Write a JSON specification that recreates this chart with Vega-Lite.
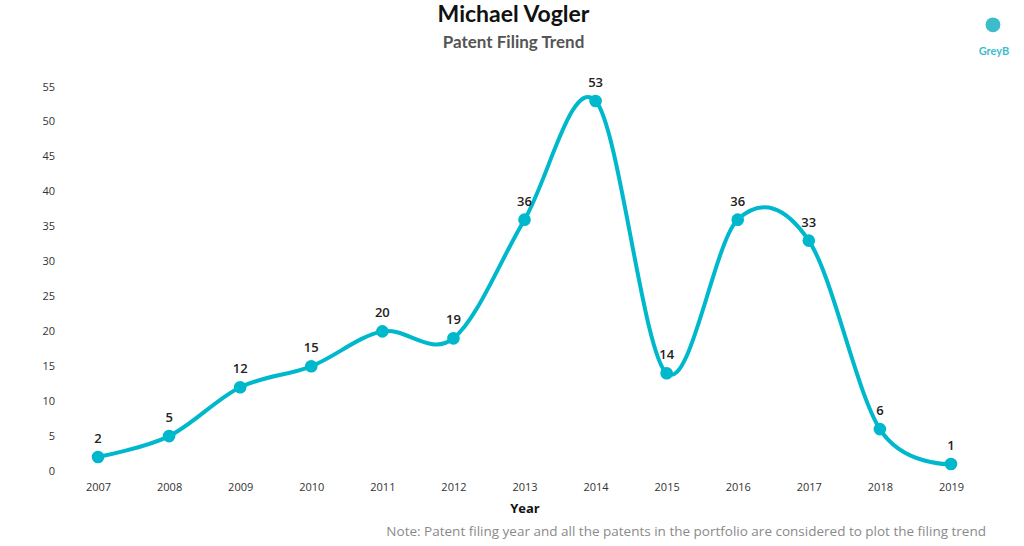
{
  "$schema": "https://vega.github.io/schema/vega-lite/v6.json",
  "autosize": {"type": "none"},
  "width": 924,
  "height": 384,
  "padding": {"left": 62.5, "top": 87, "right": 37.5, "bottom": 75},
  "background": "white",
  "title": {
    "text": "Michael Vogler",
    "subtitle": "Patent Filing Trend",
    "anchor": "middle",
    "frame": "group",
    "dx": -11,
    "offset": -34,
    "font": "Lato",
    "fontSize": 23,
    "fontWeight": "bold",
    "color": "#111111",
    "subtitleFont": "Lato",
    "subtitleFontSize": 17,
    "subtitleFontWeight": "bold",
    "subtitleColor": "#555555",
    "subtitlePadding": 8
  },
  "config": {
    "view": {"stroke": null},
    "axis": {"grid": false, "domain": false, "ticks": false},
    "axisY": {"tickCount": 12, "labelOverlap": false, "title": null, "labelFont": "Open Sans", "labelFontSize": 11, "labelColor": "#333333", "labelPadding": 8}
  },
  "datasets": {
    "counts": [
      {"year": 2007, "count": 2},
      {"year": 2008, "count": 5},
      {"year": 2009, "count": 12},
      {"year": 2010, "count": 15},
      {"year": 2011, "count": 20},
      {"year": 2012, "count": 19},
      {"year": 2013, "count": 36},
      {"year": 2014, "count": 53},
      {"year": 2015, "count": 14},
      {"year": 2016, "count": 36},
      {"year": 2017, "count": 33},
      {"year": 2018, "count": 6},
      {"year": 2019, "count": 1}
    ],
    "notes": [
      {"year": 2019, "note": "Note: Patent filing year and all the patents in the portfolio are considered to plot the filing trend", "brand": "GreyB"}
    ]
  },
  "layer": [
    {
      "data": {"name": "counts"},
      "mark": {"type": "line", "interpolate": "cardinal", "color": "#00B8CC", "strokeWidth": 4},
      "encoding": {
        "x": {
          "field": "year",
          "type": "ordinal",
          "scale": {"type": "point", "padding": 0.5},
          "axis": {
            "title": "Year",
            "labelAngle": 0,
            "labelFont": "Open Sans",
            "labelFontSize": 11,
            "labelColor": "#333333",
            "labelPadding": 10,
            "titleFont": "Open Sans",
            "titleFontSize": 13,
            "titleFontWeight": "bold",
            "titleColor": "#111111",
            "titlePadding": 10
          }
        },
        "y": {
          "field": "count",
          "type": "quantitative",
          "scale": {"domain": [0, 55], "nice": false},
          "axis": {"values": [0, 5, 10, 15, 20, 25, 30, 35, 40, 45, 50, 55]}
        }
      }
    },
    {
      "data": {"name": "counts"},
      "mark": {"type": "point", "filled": true, "opacity": 1, "color": "#00B8CC", "size": 160},
      "encoding": {
        "x": {"field": "year", "type": "ordinal"},
        "y": {"field": "count", "type": "quantitative", "axis": {"values": [0, 5, 10, 15, 20, 25, 30, 35, 40, 45, 50, 55]}}
      }
    },
    {
      "data": {"name": "counts"},
      "mark": {"type": "text", "dy": -18, "font": "Open Sans", "fontSize": 13, "fontWeight": 600, "color": "#222222"},
      "encoding": {
        "x": {"field": "year", "type": "ordinal"},
        "y": {"field": "count", "type": "quantitative", "axis": {"values": [0, 5, 10, 15, 20, 25, 30, 35, 40, 45, 50, 55]}},
        "text": {"field": "count", "type": "quantitative"}
      }
    },
    {
      "data": {"name": "notes"},
      "mark": {"type": "text", "align": "right", "baseline": "middle", "dx": 35, "font": "Open Sans", "fontSize": 13.5, "color": "#8a8a8a"},
      "encoding": {
        "x": {"field": "year", "type": "ordinal"},
        "y": {"datum": -8.8, "axis": {"values": [0, 5, 10, 15, 20, 25, 30, 35, 40, 45, 50, 55]}},
        "text": {"field": "note", "type": "nominal"}
      }
    },
    {
      "data": {"name": "notes"},
      "mark": {"type": "text", "align": "center", "baseline": "middle", "dx": 43, "font": "Lato", "fontSize": 11, "fontWeight": "bold", "color": "#3DBCCB"},
      "encoding": {
        "x": {"field": "year", "type": "ordinal"},
        "y": {"datum": 60, "axis": {"values": [0, 5, 10, 15, 20, 25, 30, 35, 40, 45, 50, 55]}},
        "text": {"field": "brand", "type": "nominal"}
      }
    },
    {
      "data": {"name": "notes"},
      "mark": {"type": "point", "filled": true, "opacity": 1, "color": "#3DBCCB", "size": 220, "xOffset": 42},
      "encoding": {
        "x": {"field": "year", "type": "ordinal"},
        "y": {"datum": 63.9, "axis": {"values": [0, 5, 10, 15, 20, 25, 30, 35, 40, 45, 50, 55]}}
      }
    }
  ]
}
